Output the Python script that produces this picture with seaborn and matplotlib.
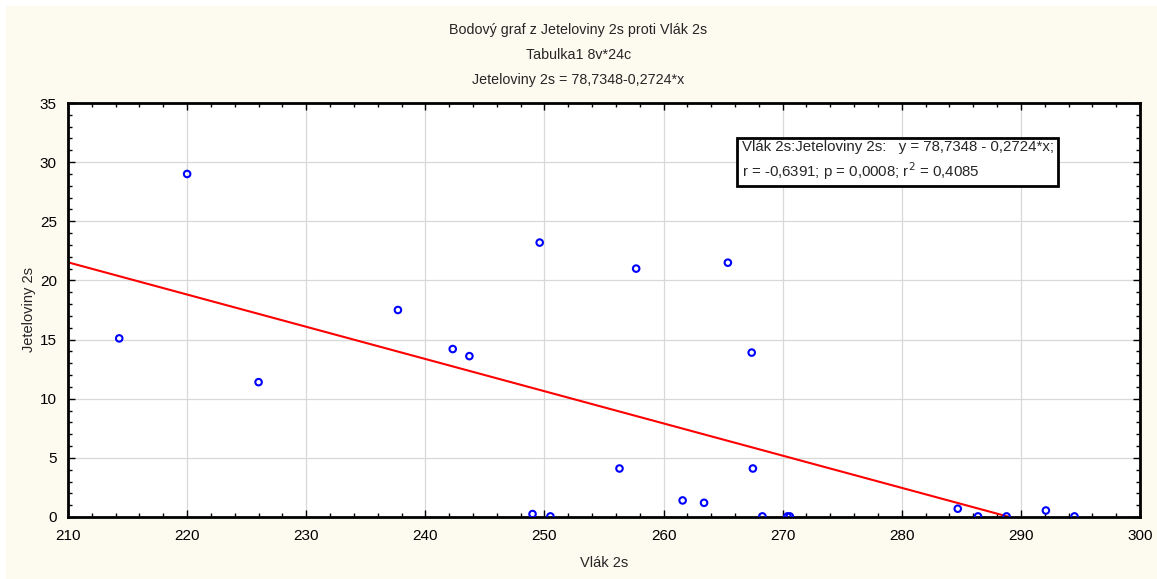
import numpy as np
import pandas as pd
import matplotlib
matplotlib.use('Agg')
import matplotlib.pyplot as plt
from matplotlib.patches import Rectangle
from matplotlib.ticker import MultipleLocator
import seaborn as sns

# Data
vlak_2s = [214.3, 220.0, 226.0, 237.7, 242.3, 243.7, 249.6, 249.0, 250.5,
           256.3, 257.7, 261.6, 263.4, 265.4, 267.4, 267.5, 268.3, 270.4,
           270.6, 284.7, 286.4, 288.8, 292.1, 294.5]
jeteloviny_2s = [15.1, 29.0, 11.4, 17.5, 14.2, 13.6, 23.2, 0.25, 0.05,
                 4.1, 21.0, 1.4, 1.2, 21.5, 13.9, 4.1, 0.05, 0.05,
                 0.05, 0.7, 0.05, 0.05, 0.55, 0.05]
intercept = 78.7348
slope = -0.2724
x_range = [210, 300]

df = pd.DataFrame({'Vlák 2s': vlak_2s, 'Jeteloviny 2s': jeteloviny_2s})
fit_x = np.array(x_range, dtype=float)
fit = pd.DataFrame({'x': fit_x, 'y': intercept + slope * fit_x})

sns.set_theme(style='white')
plt.rcParams['font.family'] = ['Liberation Sans', 'DejaVu Sans']

W, H = 1157, 579
fig = plt.figure(figsize=(W / 100, H / 100), dpi=100, facecolor='white')
# cream panel behind everything, leaving a thin white margin top/left
fig.patches.append(Rectangle((6 / W, 0), 1 - 6 / W, 1 - 6 / H,
                             transform=fig.transFigure, facecolor='#fdfaf0',
                             edgecolor='none', zorder=-10))

ax = fig.add_axes([68 / W, 1 - 517 / H, (1140 - 68) / W, (517 - 103) / H])
ax.set_facecolor('white')

sns.lineplot(data=fit, x='x', y='y', color='red', linewidth=1.5, ax=ax, zorder=2)
sns.scatterplot(data=df, x='Vlák 2s', y='Jeteloviny 2s', ax=ax, s=22,
                facecolor='none', edgecolor='blue', linewidth=1.5, zorder=3)

ax.set_xlim(210, 300)
ax.set_ylim(0, 35)
ax.xaxis.set_major_locator(MultipleLocator(10))
ax.xaxis.set_minor_locator(MultipleLocator(2))
ax.yaxis.set_major_locator(MultipleLocator(5))
ax.yaxis.set_minor_locator(MultipleLocator(1))
ax.grid(True, which='major', color='#d8d8d8', linewidth=0.9)
ax.set_axisbelow(True)
ax.tick_params(which='both', direction='in', top=True, right=True,
               bottom=True, left=True, colors='black', labelsize=11)
ax.tick_params(which='major', length=5, width=1)
ax.tick_params(which='minor', length=3, width=1)
ax.tick_params(axis='x', pad=9)
ax.tick_params(axis='y', pad=8)
for s in ax.spines.values():
    s.set_color('black')
    s.set_linewidth(2)

ax.set_xlabel('Vlák 2s', fontsize=10.5, labelpad=9)
ax.set_ylabel('Jeteloviny 2s', fontsize=10.5, labelpad=3)

fig.text(0.5, 1 - 30 / H, 'Bodový graf z Jeteloviny 2s proti Vlák 2s',
         ha='center', va='center', fontsize=10.3)
fig.text(0.5, 1 - 55 / H, 'Tabulka1 8v*24c', ha='center', va='center', fontsize=10.3)
fig.text(0.5, 1 - 80 / H, 'Jeteloviny 2s = 78,7348-0,2724*x',
         ha='center', va='center', fontsize=10.3)

ax.text(0.6285, 0.86,
        'Vlák 2s:Jeteloviny 2s:   y = 78,7348 - 0,2724*x;\n'
        'r = -0,6391; p = 0,0008; r$^2$ = 0,4085',
        transform=ax.transAxes, ha='left', va='center', fontsize=10.8,
        linespacing=1.35,
        bbox=dict(boxstyle='square,pad=0.3', facecolor='white',
                  edgecolor='black', linewidth=2))

fig.savefig('out.png', dpi=100, facecolor=fig.get_facecolor())
